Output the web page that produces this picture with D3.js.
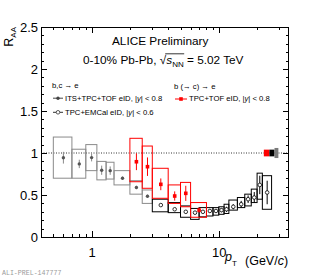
<!DOCTYPE html>
<html><head><meta charset="utf-8">
<script src="https://cdn.jsdelivr.net/npm/d3@7"></script>
<style>html,body{margin:0;padding:0;background:#fff;} svg{display:block;font-family:"Liberation Sans",Arial,sans-serif;}</style>
</head><body><svg id="c" width="320" height="277"></svg>
<script>
// ---- data ----
// b,c -> e : ITS+TPC+TOF eID, |y|<0.8 (gray, filled circles)
const grayLo   = [0.5, 0.7, 0.9, 1.1, 1.3, 1.5, 2.0, 2.5];
const grayHi   = [0.7, 0.9, 1.1, 1.3, 1.5, 2.0, 2.5, 3.0];
const grayPt   = [0.6, 0.8, 1.0, 1.2, 1.4, 1.75, 2.25, 2.75];
const grayVal  = [0.944, 0.87, 0.945, 0.795, 0.79, 0.70, 0.59, 0.485];
const grayStat = [0.07, 0.05, 0.045, 0.055, 0.05, 0.02, 0.02, 0.02];
const graySysLo= [0.70, 0.70, 0.79, 0.68, 0.69, 0.62, 0.51, 0.40];
const graySysHi= [1.19, 1.045, 1.10, 0.90, 0.89, 0.79, 0.67, 0.56];
// b,c -> e : TPC+EMCal eID, |y|<0.6 (black, open circles)
const blackLo   = [3, 4, 5, 6, 7, 8, 9, 10, 11, 12, 14, 16, 18, 20, 22];
const blackHi   = [4, 5, 6, 7, 8, 9, 10, 11, 12, 14, 16, 18, 20, 22, 26];
const blackPt   = [3.5, 4.5, 5.5, 6.5, 7.5, 8.5, 9.5, 10.5, 11.5, 13, 15, 17, 19, 21, 24];
const blackVal  = [0.38, 0.33, 0.30, 0.29, 0.30, 0.31, 0.31, 0.32, 0.33, 0.36, 0.39, 0.45, 0.47, 0.62, 0.53];
const blackStat = [0.015, 0.015, 0.02, 0.02, 0.02, 0.02, 0.02, 0.025, 0.03, 0.03, 0.04, 0.045, 0.065, 0.11, 0.14];
const blackSysLo= [0.30, 0.29, 0.235, 0.21, 0.24, 0.25, 0.26, 0.27, 0.28, 0.32, 0.35, 0.37, 0.41, 0.45, 0.33];
const blackSysHi= [0.45, 0.41, 0.37, 0.34, 0.35, 0.35, 0.35, 0.36, 0.39, 0.44, 0.47, 0.51, 0.57, 0.76, 0.73];
// b (-> c) -> e : TPC+TOF eID, |y|<0.8 (red, filled squares)
const redLo   = [2.0, 2.5, 3, 4, 5, 6];
const redHi   = [2.5, 3.0, 4, 5, 6, 8];
const redPt   = [2.25, 2.75, 3.5, 4.5, 5.5, 7];
const redVal  = [0.896, 0.837, 0.627, 0.488, 0.52, 0.32];
const redStat = [0.10, 0.11, 0.07, 0.055, 0.09, 0.03];
const redSysLo= [0.658, 0.58, 0.461, 0.40, 0.36, 0.235];
const redSysHi= [1.175, 1.083, 0.818, 0.62, 0.65, 0.41];
// global normalisation uncertainty boxes at R_AA = 1
const normLo  = [22.6, 25.0, 27.4];
const normHi  = [25.0, 27.4, 29.4];
const normUnc = [0.04, 0.04, 0.06];
const normSeries = ["red", "black", "gray"];
// axes
const xMajor = [1, 10];
const xTickLabels = ["1", "10"];
const xMinor = [0.5,0.6,0.7,0.8,0.9,2,3,4,5,6,7,8,9,20,30];
const yMajor = [0, 0.5, 1, 1.5, 2, 2.5];
const yTickLabels = ["0", "0.5", "1", "1.5", "2", "2.5"];
const yMinor = d3.range(0, 2.51, 0.1).map(v => +v.toFixed(2)).filter(v => !yMajor.includes(v));

// ---- layout ----
const W = 320, H = 277;
const L = 41, R = 288, T = 27, B = 237;
const col = {gray: "#8a8a8a", grayM: "#555", black: "#000", red: "#ff0000"};
const svg = d3.select("#c");
svg.append("rect").attr("width", W).attr("height", H).attr("fill", "#fff");
const x = d3.scaleLog().domain([0.4, 35]).range([L, R]);
const y = d3.scaleLinear().domain([0, 2.5]).range([B, T]);

// dotted line at 1
svg.append("line").attr("x1", L).attr("x2", R).attr("y1", y(1)).attr("y2", y(1))
  .attr("stroke", "#000").attr("stroke-width", 0.8).attr("stroke-dasharray", "1,1.5");

function drawSeries(lo, hi, pt, val, stat, sLo, sHi, color, mcolor, marker) {
  const g = svg.append("g");
  g.selectAll("rect.sys").data(val).join("rect")
    .attr("x", (d, i) => x(lo[i])).attr("width", (d, i) => x(hi[i]) - x(lo[i]))
    .attr("y", (d, i) => y(sHi[i])).attr("height", (d, i) => y(sLo[i]) - y(sHi[i]))
    .attr("fill", "none").attr("stroke", color).attr("stroke-width", 1);
  g.selectAll("line.err").data(val).join("line")
    .attr("x1", (d, i) => x(pt[i])).attr("x2", (d, i) => x(pt[i]))
    .attr("y1", (d, i) => y(d + stat[i])).attr("y2", (d, i) => y(d - stat[i]))
    .attr("stroke", color).attr("stroke-width", 1);
  if (marker === "circle") {
    g.selectAll("circle").data(val).join("circle")
      .attr("cx", (d, i) => x(pt[i])).attr("cy", d => y(d)).attr("r", 1.7).attr("fill", mcolor);
  } else if (marker === "open") {
    g.selectAll("circle").data(val).join("circle")
      .attr("cx", (d, i) => x(pt[i])).attr("cy", d => y(d)).attr("r", 1.8)
      .attr("fill", "#fff").attr("stroke", mcolor).attr("stroke-width", 0.8);
  } else {
    g.selectAll("rect.m").data(val).join("rect")
      .attr("x", (d, i) => x(pt[i]) - 1.8).attr("y", d => y(d) - 1.8)
      .attr("width", 3.6).attr("height", 3.6).attr("fill", mcolor);
  }
}
drawSeries(grayLo, grayHi, grayPt, grayVal, grayStat, graySysLo, graySysHi, col.gray, col.grayM, "circle");
drawSeries(blackLo, blackHi, blackPt, blackVal, blackStat, blackSysLo, blackSysHi, col.black, col.black, "open");
drawSeries(redLo, redHi, redPt, redVal, redStat, redSysLo, redSysHi, col.red, col.red, "square");

// normalisation boxes
svg.append("g").selectAll("rect").data(normUnc).join("rect")
  .attr("x", (d, i) => x(normLo[i])).attr("width", (d, i) => x(normHi[i]) - x(normLo[i]))
  .attr("y", d => y(1 + d)).attr("height", d => y(1 - d) - y(1 + d))
  .attr("fill", (d, i) => ({red: col.red, black: "#000", gray: "#7a7a7a"})[normSeries[i]]);

// axes (ROOT style ticks inside)
function styleAxis(g) {
  g.select(".domain").remove();
  g.selectAll(".tick line").attr("stroke", "#000").attr("shape-rendering", "crispEdges");
  g.selectAll("text").attr("font-family", "Liberation Sans, Arial, sans-serif").attr("font-size", 13).attr("fill", "#000");
}
svg.append("g").attr("transform", `translate(0,${B})`)
  .call(d3.axisBottom(x).tickValues(xMajor).tickFormat((d, i) => xTickLabels[i]).tickSize(-6).tickPadding(11)).call(styleAxis);
svg.append("g").attr("transform", `translate(0,${B})`)
  .call(d3.axisBottom(x).tickValues(xMinor).tickFormat("").tickSize(-3)).call(styleAxis);
svg.append("g").attr("transform", `translate(0,${T})`)
  .call(d3.axisTop(x).tickValues(xMajor).tickFormat("").tickSize(-6)).call(styleAxis);
svg.append("g").attr("transform", `translate(0,${T})`)
  .call(d3.axisTop(x).tickValues(xMinor).tickFormat("").tickSize(-3)).call(styleAxis);
svg.append("g").attr("transform", `translate(${L},0)`)
  .call(d3.axisLeft(y).tickValues(yMajor).tickFormat((d, i) => yTickLabels[i]).tickSize(-6).tickPadding(3)).call(styleAxis);
svg.append("g").attr("transform", `translate(${L},0)`)
  .call(d3.axisLeft(y).tickValues(yMinor).tickFormat("").tickSize(-3)).call(styleAxis);
svg.append("g").attr("transform", `translate(${R},0)`)
  .call(d3.axisRight(y).tickValues(yMajor).tickFormat("").tickSize(-5)).call(styleAxis);
svg.append("g").attr("transform", `translate(${R},0)`)
  .call(d3.axisRight(y).tickValues(yMinor).tickFormat("").tickSize(-2.5)).call(styleAxis);

// frame
svg.append("rect").attr("x", L).attr("y", T).attr("width", R - L).attr("height", B - T)
  .attr("fill", "none").attr("stroke", "#000").attr("stroke-width", 1).attr("shape-rendering", "crispEdges");

// axis titles
const yt = svg.append("text").attr("transform", `translate(13,${T}) rotate(-90)`)
  .attr("text-anchor", "end").attr("font-size", 12.5).attr("fill", "#000");
yt.append("tspan").text("R");
yt.append("tspan").attr("font-size", 8).attr("dy", 2.5).text("AA");

const xt = svg.append("text").attr("x", 225).attr("y", 261).attr("font-size", 12.5).attr("fill", "#000");
xt.append("tspan").attr("font-style", "italic").text("p");
xt.append("tspan").attr("font-size", 8).attr("dy", 5).text("T");
xt.append("tspan").attr("x", 245).attr("dy", -1).text("(GeV/");
xt.append("tspan").attr("font-style", "italic").text("c");
xt.append("tspan").text(")");

// titles
svg.append("text").attr("x", 112).attr("y", 44.5).attr("font-size", 11.8).attr("fill", "#000").text("ALICE Preliminary");
const t2 = svg.append("text").attr("x", 83).attr("y", 64).attr("font-size", 11.8).attr("fill", "#000");
t2.append("tspan").text("0-10% Pb-Pb, ");
t2.append("tspan").text("\u221A");
t2.append("tspan").attr("font-style", "italic").text("s");
t2.append("tspan").attr("font-size", 8).attr("dy", 2.5).text("NN");
t2.append("tspan").attr("dy", -2.5).text(" = 5.02 TeV");
const n2 = t2.node();
const e13 = n2.getExtentOfChar(13), e16 = n2.getExtentOfChar(16);
svg.append("line").attr("x1", e13.x + e13.width * 0.85).attr("x2", e16.x + e16.width + 0.5)
  .attr("y1", e13.y + 0.8).attr("y2", e13.y + 0.8).attr("stroke", "#000").attr("stroke-width", 0.8);

// legend
const lf = 7.7;
svg.append("text").attr("x", 52).attr("y", 87.5).attr("font-size", lf).text("b,c \u2192 e");
svg.append("text").attr("x", 174).attr("y", 88.5).attr("font-size", lf).text("b (\u2192 c) \u2192 e");
function legRow(x0, x1, yy, color, marker, label, tx) {
  svg.append("line").attr("x1", x0).attr("x2", x1).attr("y1", yy).attr("y2", yy).attr("stroke", color).attr("stroke-width", 1);
  const cx = (x0 + x1) / 2;
  if (marker === "circle") svg.append("circle").attr("cx", cx).attr("cy", yy).attr("r", 1.7).attr("fill", color);
  else if (marker === "open") svg.append("circle").attr("cx", cx).attr("cy", yy).attr("r", 1.8).attr("fill", "#fff").attr("stroke", color).attr("stroke-width", 0.8);
  else svg.append("rect").attr("x", cx - 1.8).attr("y", yy - 1.8).attr("width", 3.6).attr("height", 3.6).attr("fill", color);
  const t = svg.append("text").attr("x", tx).attr("y", yy + 2.4).attr("font-size", lf).attr("fill", "#000");
  t.append("tspan").text(label[0]);
  t.append("tspan").attr("font-style", "italic").text("y");
  t.append("tspan").text(label[1]);
}
legRow(53, 63, 98.2, "#444", "circle", ["ITS+TPC+TOF eID, |", "| < 0.8"], 65);
legRow(53, 63, 112.3, "#333", "open", ["TPC+EMCal eID, |", "| < 0.6"], 65);
legRow(175, 187, 99, col.red, "square", ["TPC+TOF eID, |", "| < 0.8"], 189);

// preliminary tag
svg.append("text").attr("x", 2).attr("y", 275).attr("font-family", "Liberation Mono, monospace")
  .attr("font-size", 6.6).attr("fill", "#9a9a9a").text("ALI-PREL-147777");
</script></body></html>
